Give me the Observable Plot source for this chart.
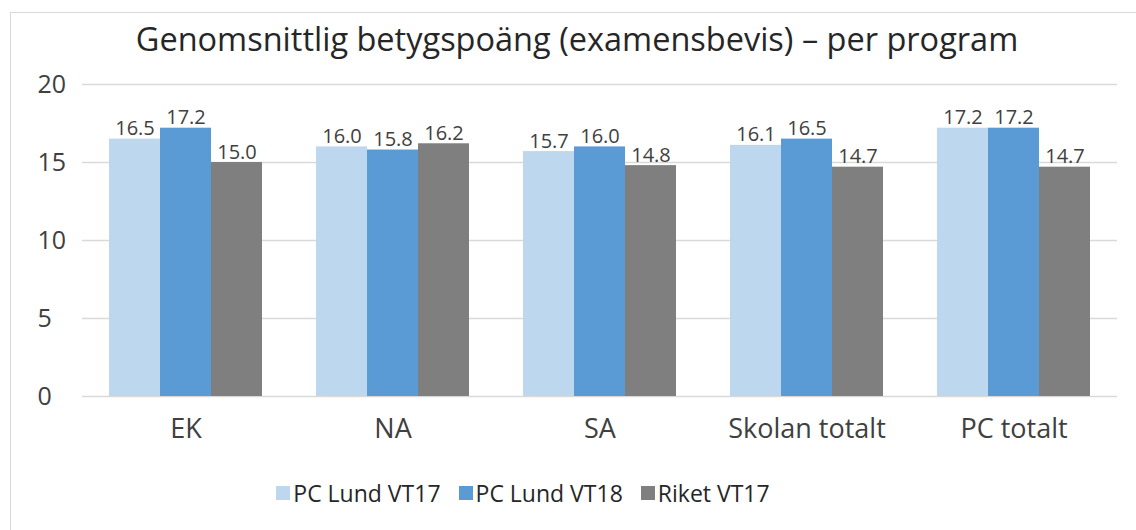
<!DOCTYPE html>
<html>
<head>
<meta charset="utf-8">
<script src="https://cdn.jsdelivr.net/npm/d3@7"></script>
<script src="https://cdn.jsdelivr.net/npm/@observablehq/plot@0.6"></script>
<style>
  html, body { margin: 0; padding: 0; background: #fff; }
  #wrap { position: relative; width: 1136px; height: 530px; overflow: hidden; background: #fff; font-family: "Open Sans", "Noto Sans", sans-serif; }
  #frame { position: absolute; left: 10px; top: 12px; width: 1140px; height: 540px; border: 1px solid #d9d9d9; box-sizing: border-box; }
  #title { position: absolute; left: 9px; width: 1136px; top: 16px; text-align: center; font-size: 32.5px; color: #262626; letter-spacing: 0px; }
  #chart { position: absolute; left: 0; top: 0; }
  #legend { position: absolute; left: -45px; width: 1136px; top: 477px; display: flex; justify-content: center; gap: 18px; font-size: 23px; color: #262626; }
  #legend .item { display: flex; align-items: center; gap: 3px; }
  #legend .sw { width: 14px; height: 14px; display: inline-block; }
</style>
</head>
<body>
<div id="wrap">
  <div id="frame"></div>
  <div id="chart"></div>
  <div id="title">Genomsnittlig betygspoäng (examensbevis) – per program</div>
  <div id="legend"></div>
</div>
<script>
const programs = ["EK", "NA", "SA", "Skolan totalt", "PC totalt"];
const seriesNames = ["PC Lund VT17", "PC Lund VT18", "Riket VT17"];
const pcLundVT17 = [16.5, 16.0, 15.7, 16.1, 17.2];
const pcLundVT18 = [17.2, 15.8, 16.0, 16.5, 17.2];
const riketVT17 = [15.0, 16.2, 14.8, 14.7, 14.7];
const seriesColors = ["#bdd7ee", "#5b9bd5", "#7f7f7f"];
const yTicks = [0, 5, 10, 15, 20];

const seriesValues = [pcLundVT17, pcLundVT18, riketVT17];
const data = [];
programs.forEach((p, i) => {
  seriesNames.forEach((s, j) => {
    data.push({program: p, series: s, value: seriesValues[j][i]});
  });
});

const chart = Plot.plot({
  width: 1136,
  height: 470,
  marginTop: 84,
  marginBottom: 74,
  marginLeft: 81,
  marginRight: 18,
  style: {fontFamily: '"Open Sans", "Noto Sans", sans-serif', background: "transparent"},
  fx: {domain: programs, padding: 0, label: null},
  x: {domain: seriesNames, paddingInner: 0, paddingOuter: 0.5, axis: null},
  y: {domain: [0, 20], label: null},
  color: {domain: seriesNames, range: seriesColors},
  marks: [
    Plot.ruleY(yTicks, {stroke: "#d9d9d9", strokeWidth: 1.3}),
    Plot.barY(data, {fx: "program", x: "series", y: "value", fill: "series"}),
    Plot.text(data, {fx: "program", x: "series", y: "value", text: d => d.value.toFixed(1),
      lineAnchor: "bottom", dy: -4, fontSize: 20, fill: "#404040"}),
    Plot.axisY(yTicks, {anchor: "left", tickSize: 0, tickPadding: 45, textAnchor: "start",
      fontSize: 25, fill: "#404040", label: null}),
    Plot.axisFx({anchor: "bottom", tickSize: 0, tickPadding: 22, fontSize: 27, fill: "#404040", label: null})
  ]
});
document.getElementById("chart").appendChild(chart);

const legend = document.getElementById("legend");
seriesNames.forEach((s, i) => {
  const item = document.createElement("div");
  item.className = "item";
  const sw = document.createElement("span");
  sw.className = "sw";
  sw.style.background = seriesColors[i];
  const label = document.createElement("span");
  label.textContent = s;
  item.appendChild(sw);
  item.appendChild(label);
  legend.appendChild(item);
});
</script>
</body>
</html>
